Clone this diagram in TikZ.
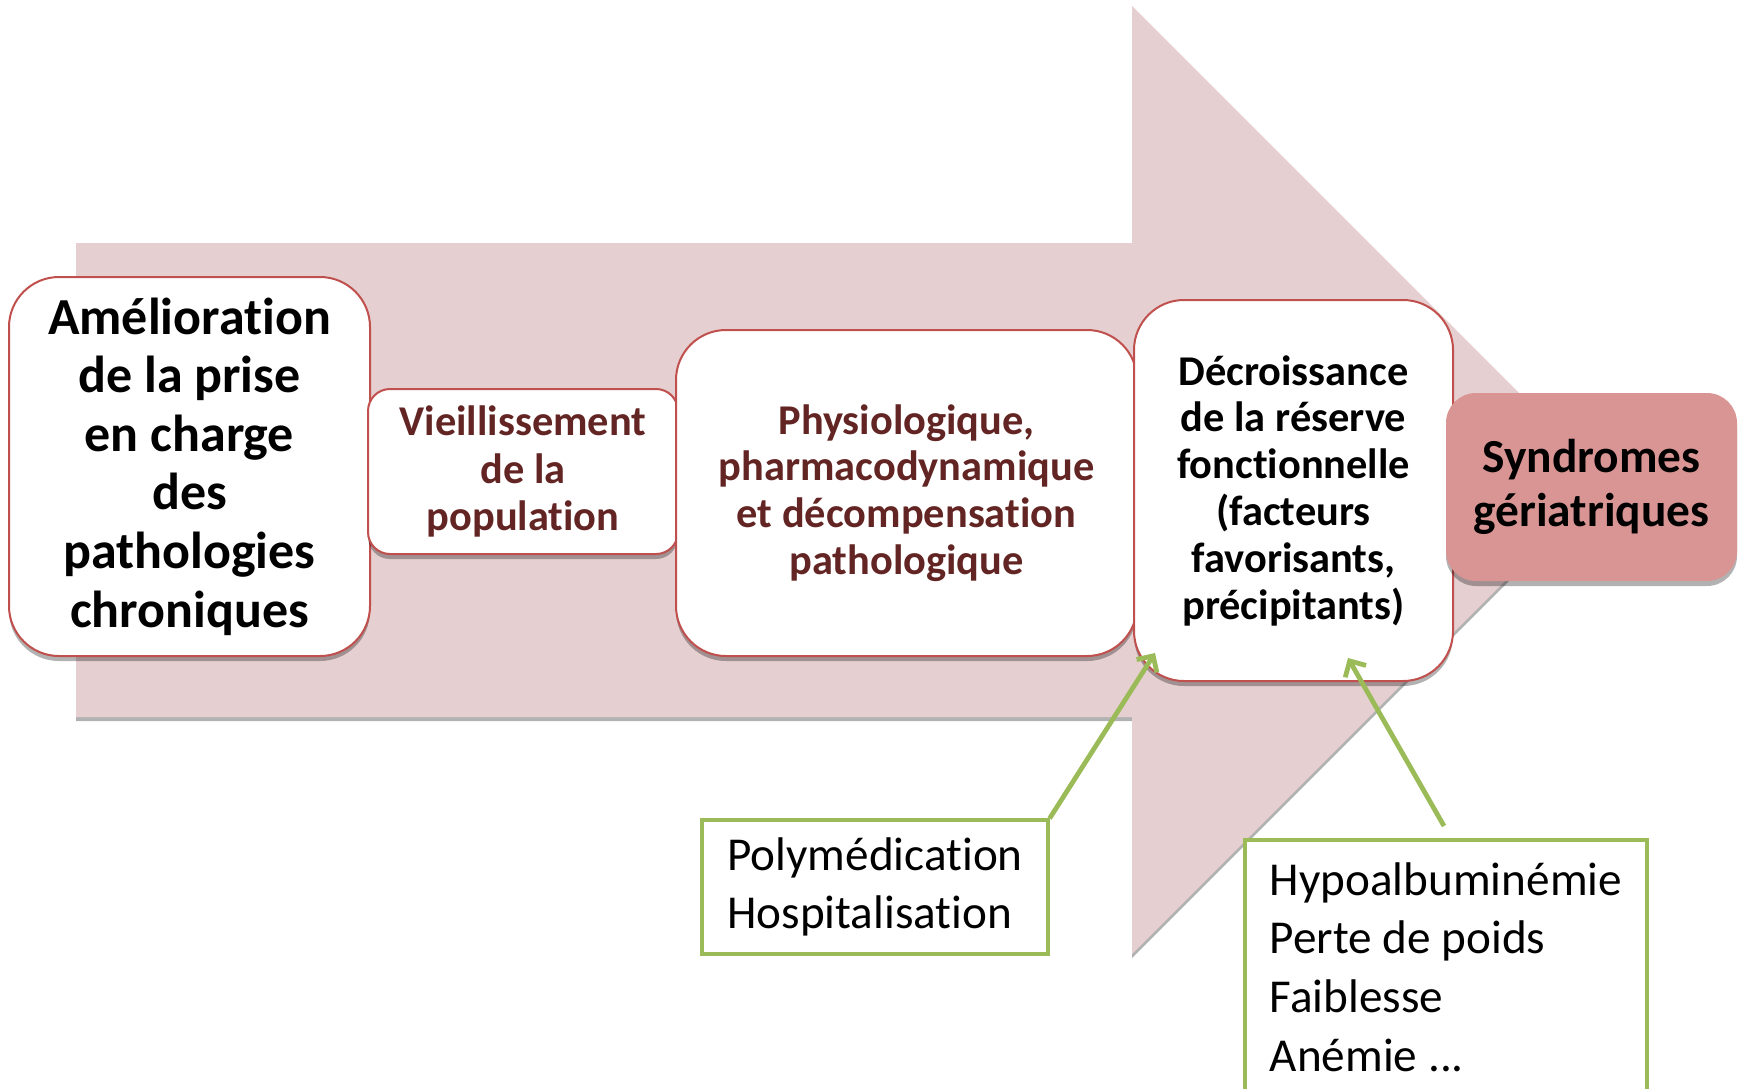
\documentclass[tikz,border=0pt]{standalone}
\usepackage{fontspec}
\setmainfont{Carlito}[Ligatures={NoCommon,NoRequired,NoContextual},Contextuals=NoAlternate]
\usepackage{tikz}
\usetikzlibrary{shadows,arrows.meta}
\definecolor{arrowpink}{HTML}{E6CFD0}
\definecolor{boxred}{HTML}{C0504D}
\definecolor{textred}{HTML}{632523}
\definecolor{syndrose}{HTML}{D99594}
\definecolor{leafgreen}{HTML}{9BBB59}
\begin{document}
\begin{tikzpicture}[x=0.5pt,y=-0.5pt,
    stagebox/.style={draw=boxred,line width=1pt,fill=white,align=center,inner sep=2pt,
      drop shadow={shadow xshift=0pt,shadow yshift=-2.5pt,opacity=0.3,fill=black}},
    factorbox/.style={draw=leafgreen,line width=1.6pt,fill=white,align=left,inner xsep=10.5pt,
      font=\fontsize{23.6}{29.3}\selectfont},
    factorarrow/.style={draw=leafgreen,line width=2.4pt,-{Straight Barb[length=6pt,width=12pt]}}]
  \useasboundingbox (0,0) rectangle (1744,1088);
  \fill[arrowpink,drop shadow={shadow xshift=0pt,shadow yshift=-2pt,opacity=0.3,fill=black}]
    (76,243) -- (1132,243) -- (1132,6) -- (1606,480) -- (1132,954) -- (1132,717) -- (76,717) -- cycle;
  \node[stagebox,rounded corners=25pt,minimum width=180.5pt,minimum height=189.5pt,
    font=\bfseries\fontsize{26}{29.3}\selectfont] (care) at (189.5,466.5)
    {Amélioration\\de la prise\\en charge\\des\\pathologies\\chroniques};
  \node[stagebox,rounded corners=11pt,minimum width=155pt,minimum height=82.5pt,text=textred,
    font=\bfseries\fontsize{21.2}{23.8}\selectfont] (ageing) at (523,471.5)
    {Vieillissement\\de la\\population};
  \node[stagebox,rounded corners=25pt,minimum width=230.5pt,minimum height=163pt,text=textred,
    font=\bfseries\fontsize{21.2}{23.4}\selectfont] (physio) at (906.5,493)
    {Physiologique,\\pharmacodynamique\\et décompensation\\pathologique};
  \node[stagebox,rounded corners=25pt,minimum width=159.5pt,minimum height=190.5pt,
    font=\bfseries\fontsize{21.2}{23.4}\selectfont] (reserve) at (1293.5,490.5)
    {Décroissance\\de la réserve\\fonctionnelle\\(facteurs\\favorisants,\\précipitants)};
  \node[stagebox,draw=none,fill=syndrose,rounded corners=15pt,minimum width=145.5pt,minimum height=94pt,
    font=\bfseries\fontsize{23.7}{26.7}\selectfont] (syndromes) at (1591.5,487)
    {Syndromes\\gériatriques};
  \node[factorbox,minimum width=173pt,minimum height=67pt] (drugs) at (875,887)
    {Polymédication\\Hospitalisation};
  \begin{scope}
    \clip (0,0) rectangle (1744,1088);
    \node[factorbox,minimum width=201pt,minimum height=127pt] (frailty) at (1446,967)
      {Hypoalbuminémie\\Perte de poids\\Faiblesse\\Anémie ...};
  \end{scope}
  \coordinate (drugsend) at (1155,653);
  \coordinate (frailtystart) at (1444,826);
  \coordinate (frailtyend) at (1348,658);
  \draw[factorarrow] (drugs.north east) -- (drugsend);
  \draw[factorarrow] (frailtystart) -- (frailtyend);
\end{tikzpicture}
\end{document}
